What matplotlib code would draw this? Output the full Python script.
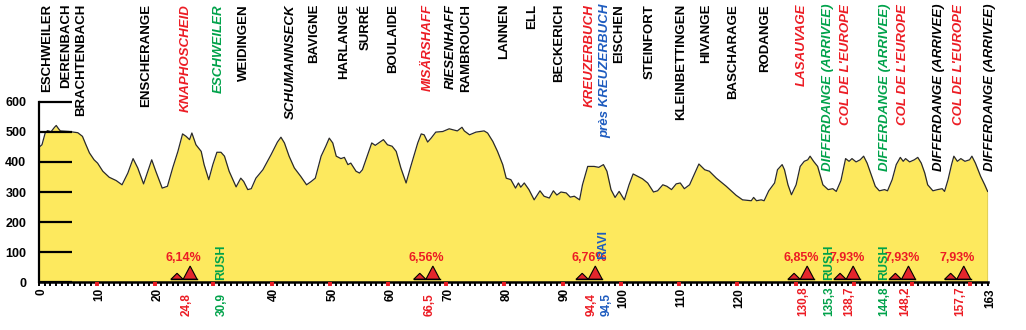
import matplotlib
matplotlib.use("Agg")
import matplotlib.pyplot as plt
import matplotlib.transforms as mtransforms

plt.rcParams['font.family'] = ['Liberation Sans', 'DejaVu Sans']

# stage profile: distance (km) and altitude (m)
km = [0, 0.55, 1.1, 1.5, 2.1, 2.7, 3.0, 3.4, 3.7, 5.2, 6.7, 7.5, 8.1, 8.7, 9.5,
      10.1, 11.0, 12.1, 13.3, 14.3, 15.3, 16.2, 17.0, 18.0, 19.4, 20.1, 21.2,
      22.1, 23.0, 23.9, 24.7, 25.3, 25.9, 26.3, 27.0, 27.9, 28.4, 29.2, 29.9,
      30.6, 31.3, 31.9, 32.7, 33.9, 34.7, 35.2, 35.9, 36.5, 37.3, 38.5, 39.9,
      41.0, 41.6, 42.2, 43.0, 43.9, 45.0, 46.0, 46.8, 47.5, 48.5, 49.3, 49.9,
      50.5, 51.1, 51.9, 52.5, 53.1, 53.6, 54.5, 55.1, 55.6, 56.5, 57.2, 57.8,
      58.4, 59.2, 59.9, 60.7, 61.4, 62.2, 63.1, 63.9, 65.1, 65.7, 66.2, 66.8,
      67.4, 68.2, 69.4, 70.5, 71.3, 71.9, 72.7, 73.1, 74.0, 75.1, 76.5, 77.1,
      78.0, 78.8, 79.7, 80.3, 81.1, 81.9, 82.4, 82.8, 83.4, 84.2, 85.1, 86.1,
      86.8, 87.7, 88.4, 89.0, 89.7, 90.6, 91.3, 92.0, 92.9, 93.4, 94.3, 95.4,
      96.2, 97.0, 97.6, 98.3, 99.0, 99.7, 100.6, 101.4, 102.1, 102.9, 103.7,
      104.6, 105.6, 106.3, 107.2, 107.9, 108.7, 109.5, 110.2, 110.9, 111.8,
      113.4, 114.4, 115.2, 116.4, 118.1, 119.8, 120.9, 122.4, 122.8, 123.3,
      124.1, 124.6, 125.4, 126.4, 126.9, 127.7, 128.1, 128.7, 129.3, 130.1,
      130.8, 131.5, 132.1, 132.5, 133.1, 133.8, 134.7, 135.6, 136.4, 137.0,
      137.8, 138.6, 139.2, 139.7, 140.4, 141.1, 141.7, 142.3, 143.0, 143.7,
      144.4, 145.3, 145.8, 146.6, 147.3, 148.0, 148.5, 148.9, 149.6, 150.4,
      151.0, 151.6, 152.2, 152.7, 153.6, 154.4, 155.2, 155.6, 156.2, 156.8,
      157.2, 157.8, 158.4, 159.1, 159.9, 160.3, 160.9, 161.8, 162.5, 163.0]
alt = [448, 457, 496, 504, 500, 515, 521, 510, 503, 501, 497, 485, 457, 430, 407,
       396, 369, 349, 338, 324, 363, 411, 380, 327, 407, 369, 313,
       319, 380, 435, 493, 485, 474, 496, 457, 435, 391, 341, 391,
       432, 432, 419, 369, 317, 346, 335, 308, 311, 346, 374, 424,
       466, 482, 463, 419, 380, 352, 324, 335, 346, 419, 452, 479,
       463, 419, 411, 415, 391, 396, 369, 363, 374, 424, 463, 455,
       463, 474, 457, 452, 435, 380, 330, 385, 463, 493, 490, 466,
       479, 499, 501, 510, 506, 503, 515, 503, 490, 499, 503, 496,
       468, 435, 391, 346, 341, 313, 330, 316, 330, 308, 274, 304,
       286, 280, 304, 290, 300, 297, 283, 286, 274, 324, 385, 385,
       382, 391, 369, 308, 282, 302, 274, 324, 360, 352, 344,
       330, 300, 304, 324, 319, 308, 327, 330, 311, 324,
       393, 374, 369, 346, 319, 289, 274, 271, 282, 271,
       274, 271, 304, 330, 374, 391, 374, 324, 291, 324,
       385, 402, 407, 419, 402, 385, 324, 308, 311, 302,
       338, 411, 402, 411, 400, 407, 419, 396, 357, 319,
       304, 308, 304, 341, 391, 415, 402, 411, 400, 407,
       415, 396, 363, 324, 304, 308, 311, 302, 341, 391,
       419, 402, 411, 402, 407, 419, 396, 352, 324, 302]

# places along the route: km position, name, colour/style code
place_km = [1.5, 4.7, 7.2, 18.4, 25.3, 31.0, 35.3, 43.3, 47.3, 52.5, 56.2,
            60.8, 66.8, 70.8, 73.4, 80.0, 84.8, 89.4, 94.6, 97.4, 99.7, 104.9,
            110.3, 114.6, 119.2, 124.7, 131.1, 135.5, 138.7, 145.3, 148.4,
            154.7, 158.0, 163.4]
place_names = ["ESCHWEILER", "DERENBACH", "BRACHTENBACH", "ENSCHERANGE",
               "KNAPHOSCHEID", "ESCHWEILER", "WEIDINGEN", "SCHUMANNSECK",
               "BAVIGNE", "HARLANGE", "SURRÉ", "BOULAIDE", "MISÄRSHAFF",
               "RIESENHAFF", "RAMBROUCH", "LANNEN", "ELL", "BECKERICH",
               "KREUZERBUCH", "près KREUZERBUCH", "EISCHEN", "STEINFORT",
               "KLEINBETTINGEN", "HIVANGE", "BASCHARAGE", "RODANGE",
               "LASAUVAGE", "DIFFERDANGE (ARRIVEE)", "COL DE L'EUROPE",
               "DIFFERDANGE (ARRIVEE)", "COL DE L'EUROPE",
               "DIFFERDANGE (ARRIVEE)", "COL DE L'EUROPE",
               "DIFFERDANGE (ARRIVEE)"]
place_kind = ["k", "k", "k", "k", "r", "g", "k", "ki", "k", "k", "k", "k",
              "r", "ki", "k", "k", "k", "k", "r", "b", "k", "k", "k", "k",
              "k", "k", "r", "g", "r", "g", "r", "ki", "r", "ki"]

# km labels printed in black under the axis
km_ticks = [0, 10, 20, 40, 50, 60, 70, 80, 90, 100, 110, 120, 163]

# categorised climbs
climb_km = [24.8, 66.5, 94.4, 130.8, 138.7, 148.2, 157.7]
climb_grade = ["6,14%", "6,56%", "6,76%", "6,85%", "7,93%", "7,93%", "7,93%"]
climb_label = ["24,8", "66,5", "94,4", "130,8", "138,7", "148,2", "157,7"]

# intermediate sprints
sprint_km = [30.9, 135.3, 144.8]
sprint_label = ["30,9", "135,3", "144,8"]

# feed zone
feed_km = 94.5
feed_label = "94,5"

RED = '#ec1c24'
GREEN = '#00a24a'
BLUE = '#1d5bbf'
YELLOW = '#fde95e'
kind_style = {"k": ('black', 'normal'), "ki": ('black', 'italic'),
              "r": (RED, 'italic'), "g": (GREEN, 'italic'),
              "b": (BLUE, 'italic')}

fig = plt.figure(figsize=(10.26, 3.30), dpi=100)
ax = fig.add_axes([0.0378, 0.1445, 0.9248, 0.5473])

ax.fill_between(km, alt, 0, color=YELLOW, lw=0, zorder=1)
ax.plot(km, alt, color='#2a2a2a', lw=0.9, zorder=2)
ax.plot([km[-1], km[-1]], [0, alt[-1]], color='#2a2a2a', lw=0.9, zorder=2)

ax.set_xlim(0, 163)
ax.set_ylim(0, 600)
ax.set_axisbelow(False)
for s in ['top', 'right']:
    ax.spines[s].set_visible(False)
ax.spines['left'].set_linewidth(1.6)
ax.spines['bottom'].set_linewidth(1.8)

ax.set_yticks(range(0, 601, 100))
ax.tick_params(axis='y', direction='in', length=24, width=1.6, pad=9,
               labelsize=9)
for lab in ax.get_yticklabels():
    lab.set_fontweight('bold')

ax.set_xticks(range(10, 161, 10))
ax.set_xticks(range(0, 164), minor=True)
ax.tick_params(axis='x', which='major', direction='out', length=3, width=2.8,
               color=RED, labelbottom=False)
ax.tick_params(axis='x', which='minor', direction='out', length=3, width=1.4,
               color='black')

# km labels under the axis
lab_tr = mtransforms.blended_transform_factory(ax.transData, fig.transFigure)
for k in km_ticks:
    ax.text(k + 0.4, 0.127, str(k), transform=lab_tr, rotation=90, ha='center',
            va='top', fontsize=8.5, fontweight='bold')
for k, t in zip(climb_km, climb_label):
    ax.text(k + 0.6, 0.042, t, transform=lab_tr, rotation=90, ha='center',
            va='bottom', fontsize=8.5, fontweight='bold', color=RED)
for k, t in zip(sprint_km, sprint_label):
    ax.text(k + 0.5, 0.042, t, transform=lab_tr, rotation=90, ha='center',
            va='bottom', fontsize=8.5, fontweight='bold', color=GREEN)
ax.text(feed_km + 3.1, 0.042, feed_label, transform=lab_tr, rotation=90,
        ha='center', va='bottom', fontsize=8.5, fontweight='bold', color=BLUE)

# climb markers: small and big triangle with the gradient above
for k, g in zip(climb_km, climb_grade):
    ax.fill([k - 2.1, k - 1.05, k], [10, 30, 10], facecolor='#e4262c',
            edgecolor='black', lw=0.8, zorder=3)
    ax.fill([k, k + 1.2, k + 2.4], [10, 54, 10], facecolor='#e4262c',
            edgecolor='black', lw=0.8, zorder=3)
    ax.plot([k - 2.1, k + 2.4], [10, 10], color='black', lw=1.0, zorder=3)
    ax.text(k + 0.1, 60, g, ha='center', va='bottom', fontsize=9,
            fontweight='bold', color=RED, zorder=4)

for k in sprint_km:
    ax.text(k + 0.5, 8, "RUSH", rotation=90, ha='center', va='bottom',
            fontsize=9, fontweight='bold', color=GREEN, zorder=4)
ax.text(feed_km + 2.5, 78, "RAVI", rotation=90, ha='center', va='bottom',
        fontsize=9, fontweight='bold', color=BLUE, zorder=4)

# place names above the profile
for k, name, kind in zip(place_km, place_names, place_kind):
    col, sty = kind_style[kind]
    ax.text(k, 0.988, name, transform=lab_tr, rotation=90, ha='center',
            va='top', fontsize=9.5, fontweight='bold', style=sty, color=col)

fig.savefig("out.png", dpi=100)
